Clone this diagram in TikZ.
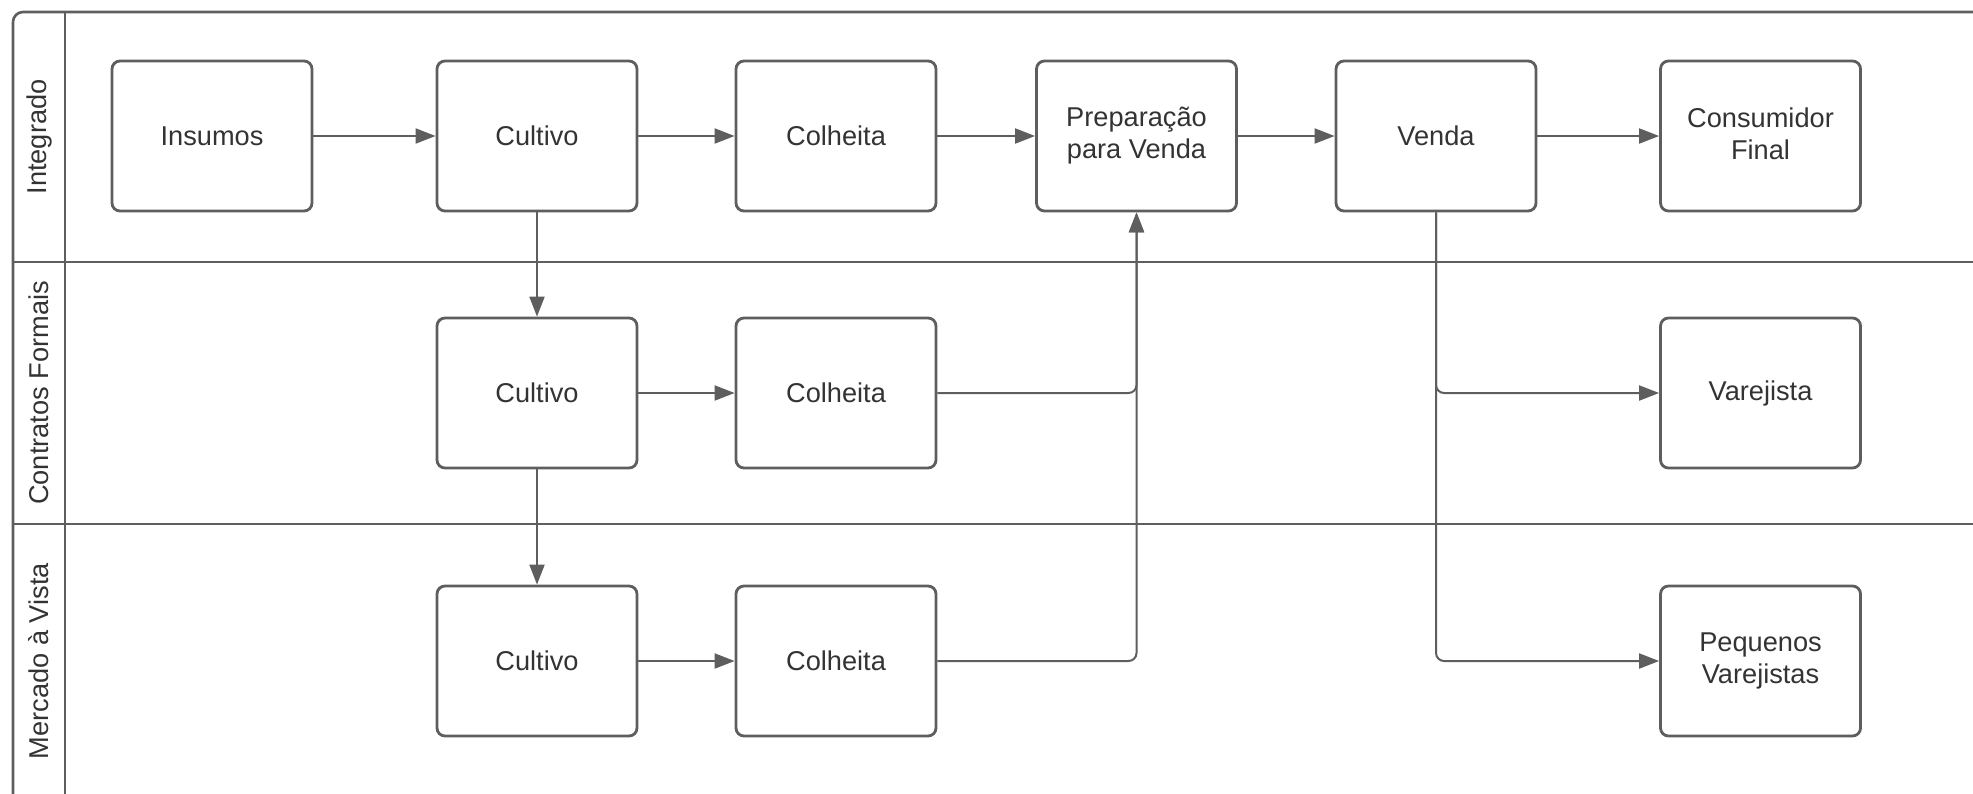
\documentclass[tikz,border=0pt]{standalone}
\usepackage{fontspec}
\setmainfont{Liberation Sans}
\usetikzlibrary{arrows.meta}
\definecolor{ln}{HTML}{5E5E5E}
\definecolor{tx}{HTML}{333333}
\tikzset{
  box/.style={draw=ln, line width=1.4pt, rounded corners=4pt, minimum width=100pt, minimum height=75pt, align=center, text=tx, font=\fontsize{13.6}{16}\selectfont, inner sep=0pt},
  lanelabel/.style={rotate=90, text=tx, font=\fontsize{13.6}{16}\selectfont, inner sep=0pt},
  arr/.style={draw=ln, line width=1pt, -{Triangle[length=10pt,width=7.5pt]}},
  conn/.style={draw=ln, line width=1pt, rounded corners=4pt},
  frame/.style={draw=ln, line width=1.3pt}
}
\begin{document}
\begin{tikzpicture}[x=0.5pt,y=-0.5pt]
\useasboundingbox (0,0) rectangle (1973,793);
\begin{scope}
\clip (0,0) rectangle (1973,793);
\draw[frame, rounded corners=5pt] (13,12) rectangle (2050,850);
\draw[frame] (65,12) -- (65,850);
\draw[frame] (13,262) -- (2050,262);
\draw[frame] (13,524) -- (2050,524);
\end{scope}
\node[lanelabel] (l1) at (39,137) {Integrado};
\node[lanelabel] (l2) at (39,393) {Contratos Formais};
\node[lanelabel] (l3) at (39,661) {Mercado à Vista};
% row 1
\node[box] (ins) at (212,136) {Insumos};
\node[box] (cul1) at (537,136) {Cultivo};
\node[box] (col1) at (836,136) {Colheita};
\node[box] (prep) at (1136.5,136) {Preparação\\para Venda};
\node[box] (ven) at (1436,136) {Venda};
\node[box] (cons) at (1760.5,136) {Consumidor\\Final\vphantom{p}};
% row 2
\node[box] (cul2) at (537,393) {Cultivo};
\node[box] (col2) at (836,393) {Colheita};
\node[box] (var) at (1760.5,393) {Varejista};
% row 3
\node[box] (cul3) at (537,661) {Cultivo};
\node[box] (col3) at (836,661) {Colheita};
\node[box] (peq) at (1760.5,661) {Pequenos\\Varejistas};
% connectors
\draw[arr] (ins) -- (cul1);
\draw[arr] (cul1) -- (col1);
\draw[arr] (col1) -- (prep);
\draw[arr] (prep) -- (ven);
\draw[arr] (ven) -- (cons);
\draw[arr] (cul1) -- (cul2);
\draw[arr] (cul2) -- (cul3);
\draw[arr] (cul2) -- (col2);
\draw[arr] (cul3) -- (col3);
\draw[conn, arr] (col2.east) -| (prep.south);
\draw[conn, arr] (col3.east) -| (prep.south);
\draw[conn, arr] (ven.south) |- (var.west);
\draw[conn, arr] (ven.south) |- (peq.west);
\end{tikzpicture}
\end{document}
